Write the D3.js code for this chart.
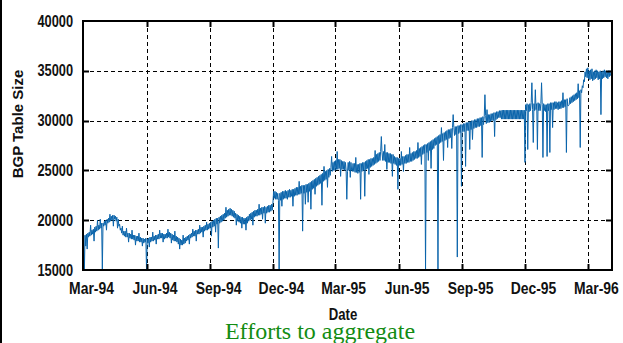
<!DOCTYPE html>
<html>
<head>
<meta charset="utf-8">
<script src="https://cdn.jsdelivr.net/npm/d3@7"></script>
<style>
  html, body { margin: 0; padding: 0; background: #fff; }
  svg { display: block; }
</style>
</head>
<body>
<svg id="chart" width="623" height="343"></svg>
<script>
// Daily BGP routing table size, in three consecutive runs.
const segmentStarts = ["1994-03-01", "1994-12-26", "1995-12-21"];
const stepDays = 1;

const tableSize94 = [
  18000,18400,15000,18500,17400,18600,17100,18700,18300,18800,18400,19500,18500,19000,18600,19100,17900,19300,18800,19400,18900,20000,19000,19500,19100,20100,19200,19700,15000,19700,
  19400,19900,19500,20000,19000,20100,19700,20200,19800,20600,19900,20400,20000,20500,19400,20500,20100,20400,19900,20300,19200,20100,19400,19600,19000,19200,18700,19400,18500,18900,
  18400,18900,18300,19200,18300,18700,17800,18700,18200,18600,18100,19000,18100,18500,18000,18500,17500,18400,17900,18400,17900,18700,17800,18300,17800,18200,17400,18200,17700,18100,
  17800,18200,15000,18100,17700,18200,17300,18300,17800,18300,17900,18800,17900,18400,18000,18500,17600,18500,18100,18600,18100,19000,18200,18700,18200,18700,17800,18600,18100,18600,
  18200,18700,18200,19100,18300,18800,18200,18700,17700,18600,18000,18500,17900,18900,17900,18400,17800,18300,17600,18200,17100,18100,17500,18000,17500,18500,17600,18200,17700,18300,
  17900,18400,18000,18500,17600,18600,18200,18700,18300,19100,18400,18900,18400,19000,17900,19000,18600,19100,18600,19500,18700,19300,18800,19300,18300,19400,18900,19500,19000,19800,
  19000,19600,19100,19700,19200,19800,18400,19900,19300,20000,19400,20100,18800,20200,19600,20200,17200,20300,19700,20400,19800,20500,19900,20600,20000,20700,20200,21300,20300,21000,
  20400,21100,20500,21200,20500,21100,20400,21000,20300,20900,20200,20700,19500,20600,19900,20500,19800,20400,19700,20300,19200,20300,19600,20200,19600,20200,19000,20300,19700,20400,
  19900,20600,20000,20700,20100,20800,19500,20900,20300,21000,20400,21000,20400,21100,20500,21600,20500,21200,20600,21300,20100,21300,20700,21400,19700,21300,20700,21400,20800,21500,
  20800,21500,20900,21600,21000,21700,22900,22200,22900,22100,22800,22100,22700,22000,15000,22700,22000,22800,21400,22900,22100,22900,22200,23000,22200,22900,22100,23000,22300,23100
];

const tableSize95 = [
  22300,23000,22400,23100,21400,23100,22400,23200,22500,23300,22500,23300,22600,23900,22600,23400,22700,23500,18900,23500,22700,23500,21600,23600,22800,23600,21800,23700,22900,23800,
  21100,23900,23100,24000,23200,24100,22600,24200,23400,24300,23500,24400,23600,24500,23700,24600,21500,24700,23900,25400,24000,24900,24100,25000,23300,25100,24300,25200,24500,25300,
  26400,24900,25800,25000,25900,25000,26000,25100,26900,25100,26100,25200,26100,24400,26000,25100,25900,25100,25900,25000,25800,25000,22100,24900,25800,25000,25900,24300,25800,25000,
  24900,25700,24900,25700,24800,26300,24800,25600,24700,25600,24800,25700,22100,25700,24900,25800,25000,25800,22400,25900,25100,26000,25200,26100,24600,26100,25300,26200,25400,26200,
  25500,26300,25600,27000,25700,26600,25800,26700,25900,26800,26000,26900,28400,26800,26000,26900,26000,27600,25900,26800,25100,26800,25800,26700,25800,26700,25700,26600,24400,26600,
  25700,26400,25600,26300,25500,26300,23100,26200,25500,26200,25500,26900,25600,26400,24900,26400,25700,26500,25700,26600,25800,26600,25800,27300,25900,26700,25900,26800,26000,26900,
  26100,26900,26200,27000,26200,27800,26300,27200,26400,27300,25600,27400,26600,27500,26700,27600,15000,27600,26800,27700,26000,27800,27000,27900,25200,28000,27100,28100,27200,28200,
  27500,28300,27600,28400,15000,28500,27700,28600,27800,29300,27900,28700,26000,28800,28000,28900,28100,29000,27300,29100,28200,29100,28300,29200,27200,29300,30600,29300,28500,29400,
  28600,29400,16300,29500,28700,29500,28800,29600,23400,29600,28900,29700,28900,29700,25400,29800,29000,29800,29000,29900,27100,29900,29100,30000,28100,30000,29200,30100,29300,30100,
  29300,30200,29400,30200,29400,30300,29500,30300,26300,30400,29600,30400,32600,30500,29700,31100,29800,30600,29800,30600,29900,30700,30000,30700,30000,30800,28400,30800,30100,30900,
  30200,30900,30300,31000,30300,31000,30150,31050,30150,31050,30150,31050,30150,31050,30150,31050,30150,31050,30150,31050,30150,31050,30150,31050,30150,31050,30150,31050,30150,31050,
  30150,31050,30150,31050,30150,31050,30150,31050,30150,31050,25800,31600,31000,31700,27100,31600,30900,31700,31000,31800,33800,31100,27800,31700,31000,33100,31100,31700,27100,31800
];

const tableSize96 = [
  31000,31700,31000,31700,33800,31600,26300,31700,31000,31600,30900,31600,26400,31700,31000,31700,26800,31800,31100,31800,29300,31800,31100,31900,31200,31900,31200,31800,31100,31900,
  31200,31900,31200,32000,31300,32800,31300,32100,31400,32100,26800,32200,31500,31500,31600,32300,31700,32400,31800,32500,31900,32600,32000,32700,32100,32800,32200,33700,32300,33000,
  27300,33100,32800,33500,33300,34100,33900,34900,34400,35200,34300,35300,34200,35000,34100,35100,34200,35200,34000,34900,34100,35000,34200,35100,34300,35000,34100,34900,34200,35000,
  30600,34900,34200,35000,34300,35100,34400,35000,34300,34900,34200,35000,34400,35000,34500
];

const xTickDates = ["1994-03-01","1994-06-01","1994-09-01","1994-12-01","1995-03-01",
                    "1995-06-01","1995-09-01","1995-12-01","1996-03-01"];
const xTickLabels = ["Mar-94","Jun-94","Sep-94","Dec-94","Mar-95","Jun-95","Sep-95","Dec-95","Mar-96"];
const yTicks = [15000, 20000, 25000, 30000, 35000, 40000];

const parse = d3.timeParse("%Y-%m-%d");

// Expand the runs into dated points.
const points = [];
[tableSize94, tableSize95, tableSize96].forEach((vals, s) => {
  const start = parse(segmentStarts[s]);
  vals.forEach((v, i) => points.push({ date: d3.timeDay.offset(start, i * stepDays), value: v }));
});

const plotLeft = 83, plotRight = 612, plotTop = 21, plotBottom = 270;
const x = d3.scaleTime().domain([parse("1994-03-01"), parse("1996-04-05")]).range([plotLeft, plotRight]);
const y = d3.scaleLinear().domain([15000, 40000]).range([plotBottom, plotTop]);

const svg = d3.select("#chart");
const labelFont = "'Liberation Sans', Arial, Helvetica, sans-serif";

// Squeeze a bold sans label horizontally into a condensed face.
function condense(sel, factor) {
  sel.each(function () {
    const w = this.getComputedTextLength();
    d3.select(this).attr("textLength", w * factor).attr("lengthAdjust", "spacingAndGlyphs");
  });
}

svg.append("rect").attr("width", 623).attr("height", 343).attr("fill", "#fff");
// page rule on the left edge
svg.append("rect").attr("x", 0).attr("y", 0).attr("width", 2).attr("height", 343).attr("fill", "#000");

svg.append("defs").append("clipPath").attr("id", "plot-clip")
  .append("rect").attr("x", plotLeft).attr("y", plotTop)
  .attr("width", plotRight - plotLeft).attr("height", plotBottom - plotTop);

// dashed grid
const grid = svg.append("g").attr("stroke", "#000").attr("stroke-width", 1).attr("stroke-dasharray", "4,3");
grid.selectAll("line.h").data(yTicks.slice(1, -1)).join("line")
  .attr("x1", plotLeft).attr("x2", plotRight)
  .attr("y1", d => Math.round(y(d)) + 0.5).attr("y2", d => Math.round(y(d)) + 0.5);
grid.selectAll("line.v").data(xTickDates.slice(1)).join("line")
  .attr("x1", d => Math.round(x(parse(d))) + 0.5).attr("x2", d => Math.round(x(parse(d))) + 0.5)
  .attr("y1", plotTop).attr("y2", plotBottom);

// series line
const line = d3.line().x(d => x(d.date)).y(d => y(d.value));
svg.append("path")
  .datum(points)
  .attr("clip-path", "url(#plot-clip)")
  .attr("fill", "none")
  .attr("stroke", "#0a64ab")
  .attr("stroke-width", 1)
  .attr("stroke-linejoin", "round")
  .attr("d", line);

// frame and inward ticks
svg.append("rect").attr("x", plotLeft).attr("y", plotTop)
  .attr("width", plotRight - plotLeft).attr("height", plotBottom - plotTop)
  .attr("fill", "none").attr("stroke", "#000").attr("stroke-width", 2);
const ticks = svg.append("g").attr("stroke", "#000").attr("stroke-width", 2);
xTickDates.slice(1).forEach(d => {
  const px = Math.round(x(parse(d))) + 0.5;
  ticks.append("line").attr("x1", px).attr("x2", px).attr("y1", plotBottom).attr("y2", plotBottom - 6);
  ticks.append("line").attr("x1", px).attr("x2", px).attr("y1", plotTop).attr("y2", plotTop + 6);
});
yTicks.slice(1, -1).forEach(v => {
  const py = Math.round(y(v)) + 0.5;
  ticks.append("line").attr("x1", plotLeft).attr("x2", plotLeft + 6).attr("y1", py).attr("y2", py);
  ticks.append("line").attr("x1", plotRight).attr("x2", plotRight - 6).attr("y1", py).attr("y2", py);
});

// axes labels
const yAxis = svg.append("g").attr("transform", `translate(${plotLeft},0)`)
  .call(d3.axisLeft(y).tickValues(yTicks).tickFormat(d3.format("d")).tickSize(0).tickPadding(10));
yAxis.select(".domain").remove();
yAxis.selectAll("text").attr("font-family", labelFont).attr("font-weight", "bold")
  .attr("font-size", 16).attr("fill", "#111").call(condense, 0.8);

const xAxis = svg.append("g").attr("transform", `translate(0,${plotBottom})`)
  .call(d3.axisBottom(x).tickValues(xTickDates.map(parse))
    .tickFormat((d, i) => xTickLabels[i]).tickSize(0).tickPadding(13));
xAxis.select(".domain").remove();
xAxis.selectAll("text").attr("dx", 8).attr("font-family", labelFont).attr("font-weight", "bold")
  .attr("font-size", 16).attr("fill", "#111").call(condense, 0.87);

svg.append("text").attr("x", 343).attr("y", 320).attr("text-anchor", "middle")
  .attr("font-family", labelFont).attr("font-weight", "bold").attr("font-size", 16).attr("fill", "#111")
  .text("Date").call(condense, 0.82);

svg.append("text").attr("transform", "translate(23,124) rotate(-90)").attr("text-anchor", "middle")
  .attr("font-family", labelFont).attr("font-weight", "bold").attr("font-size", 15).attr("fill", "#111")
  .text("BGP Table Size");

svg.append("text").attr("x", 320).attr("y", 339).attr("text-anchor", "middle")
  .attr("font-family", "'Liberation Serif', 'Times New Roman', serif").attr("font-size", 24)
  .attr("fill", "#128c12")
  .text("Efforts to aggregate");
</script>
</body>
</html>
